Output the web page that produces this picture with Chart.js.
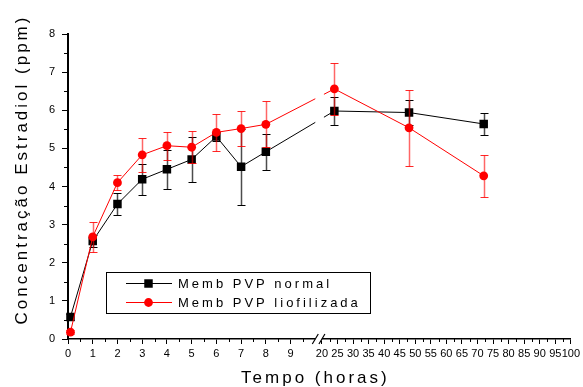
<!DOCTYPE html>
<html><head><meta charset="utf-8">
<script src="https://cdn.jsdelivr.net/npm/chart.js@4.4.1/dist/chart.umd.min.js"></script>
<style>html,body{margin:0;padding:0;background:#fff;overflow:hidden}canvas{display:block}</style>
</head><body>
<canvas id="c" width="583" height="387"></canvas>
<script>
// ---------- data ----------
const hours      = [0.1, 1, 2, 3, 4, 5, 6, 7, 8, 24, 48, 72];
const normal     = [0.58, 2.57, 3.54, 4.19, 4.45, 4.71, 5.31, 4.52, 4.91, 5.98, 5.94, 5.64];
const normalErr  = [0.08, 0.15, 0.30, 0.40, 0.51, 0.59, 0.12, 1.00, 0.48, 0.37, 0.33, 0.29];
const lio        = [0.18, 2.68, 4.10, 4.83, 5.07, 5.03, 5.42, 5.52, 5.63, 6.56, 5.54, 4.28];
const lioErr     = [0.05, 0.39, 0.19, 0.45, 0.37, 0.42, 0.49, 0.45, 0.60, 0.68, 1.00, 0.55];
const seriesLabels = ['Memb PVP normal', 'Memb PVP liofilizada'];
const xTicksLeft  = [0, 1, 2, 3, 4, 5, 6, 7, 8, 9];
const xTicksRight = [20, 25, 30, 35, 40, 45, 50, 55, 60, 65, 70, 75, 80, 85, 90, 95, 100];
const yTicks      = [0, 1, 2, 3, 4, 5, 6, 7, 8];
const xTitle = 'Tempo (horas)';
const yTitle = 'Concentração Estradiol (ppm)';

// ---------- layout of the broken axis ----------
const BREAK = { lowMax: 10, highMin: 20, lowFrac: 0.4918, highFrac: 0.505 };
const FONT = '"Liberation Sans", Arial, sans-serif';
Chart.defaults.font.family = FONT;

class BrokenLinearScale extends Chart.LinearScale {
  buildTicks() {
    this.start = this.min; this.end = this.max;
    return [...xTicksLeft, ...xTicksRight].map(v => ({ value: v }));
  }
  _frac(value) {
    const b = BREAK;
    if (value <= b.lowMax) return (value - this.min) / (b.lowMax - this.min) * b.lowFrac;
    if (value >= b.highMin) return b.highFrac + (value - b.highMin) / (this.max - b.highMin) * (1 - b.highFrac);
    return b.lowFrac + (value - b.lowMax) / (b.highMin - b.lowMax) * (b.highFrac - b.lowFrac);
  }
  getPixelForValue(value) {
    return this._startPixel + this._frac(value) * this._length;
  }
  getValueForPixel(pixel) {
    const b = BREAK;
    const f = (pixel - this._startPixel) / this._length;
    if (f <= b.lowFrac) return this.min + f / b.lowFrac * (b.lowMax - this.min);
    if (f >= b.highFrac) return b.highMin + (f - b.highFrac) / (1 - b.highFrac) * (this.max - b.highMin);
    return b.lowMax + (f - b.lowFrac) / (b.highFrac - b.lowFrac) * (b.highMin - b.lowMax);
  }
}
BrokenLinearScale.id = 'brokenLinear';
BrokenLinearScale.defaults = Chart.LinearScale.defaults;
Chart.register(BrokenLinearScale);

// error bars + gap clipping
const errorBars = {
  id: 'errorBars',
  beforeDatasetDraw(chart, args) {
    const { ctx, scales: { x, y }, chartArea } = chart;
    const gapL = x.getPixelForValue(BREAK.lowMax);
    const gapR = x.getPixelForValue(BREAK.highMin) + 2;
    ctx.save();
    ctx.beginPath();
    ctx.rect(0, 0, gapL, chart.height);
    ctx.rect(gapR, 0, chart.width - gapR, chart.height);
    ctx.clip();
    const ds = chart.data.datasets[args.index];
    const errs = ds.errors;
    ctx.save();
    args.meta.data.forEach((pt, j) => {
      const v = ds.data[j].y, e = errs[j];
      const px = Math.round(pt.x) + 0.5;
      const yt = Math.round(y.getPixelForValue(v + e)) + 0.5;
      const yb = Math.round(y.getPixelForValue(v - e)) + 0.5;
      ctx.strokeStyle = ds.errColor;
      ctx.lineWidth = 1.5;
      ctx.beginPath(); ctx.moveTo(px, yt); ctx.lineTo(px, yb); ctx.stroke();
      ctx.lineWidth = 1;
      ctx.strokeStyle = ds.capColor;
      ctx.beginPath();
      ctx.moveTo(px - 4, yt); ctx.lineTo(px + 4, yt);
      ctx.moveTo(px - 4, yb); ctx.lineTo(px + 4, yb);
      ctx.stroke();
    });
    ctx.restore();
  },
  afterDatasetDraw(chart) { chart.ctx.restore(); }
};

// minor ticks, axis break marks, titles, legend
const decorations = {
  id: 'decorations',
  afterDraw(chart) {
    const { ctx, scales: { x, y }, chartArea: a } = chart;
    ctx.save();
    ctx.strokeStyle = '#000'; ctx.lineWidth = 1;
    // minor ticks
    ctx.beginPath();
    yTicks.slice(0, -1).forEach(t => {
      const py = Math.round(y.getPixelForValue(t + 0.5)) + 0.5;
      ctx.moveTo(a.left - 4, py); ctx.lineTo(a.left, py);
    });
    const xm = [...xTicksLeft.map(t => t + 0.5), ...xTicksRight.slice(0, -1).map(t => t + 2.5)];
    xm.forEach(t => {
      const px = Math.round(x.getPixelForValue(t)) + 0.5;
      ctx.moveTo(px, a.bottom); ctx.lineTo(px, a.bottom + 3);
    });
    ctx.stroke();
    // break marks
    const b1 = x.getPixelForValue(BREAK.lowMax), b2 = x.getPixelForValue(BREAK.highMin);
    ctx.fillStyle = '#fff';
    ctx.fillRect(b1, a.bottom - 1.5, b2 - b1, 3);
    ctx.lineWidth = 1.2;
    ctx.beginPath();
    [b1, b2].forEach(c => { ctx.moveTo(c - 3, a.bottom + 5); ctx.lineTo(c + 3, a.bottom - 5); });
    ctx.stroke();
    // titles
    ctx.fillStyle = '#000';
    ctx.font = '17px ' + FONT;
    ctx.letterSpacing = '3px';
    ctx.textAlign = 'center'; ctx.textBaseline = 'middle';
    ctx.fillText(xTitle, (a.left + a.right) / 2 - 4, chart.height - 9);
    ctx.save();
    ctx.translate(22, (a.top + a.bottom) / 2 - 17);
    ctx.rotate(-Math.PI / 2);
    ctx.fillText(yTitle, 0, 0);
    ctx.restore();
    // legend
    const lx = a.left + 38, ly = a.bottom - 67, lw = 264, lh = 41;
    ctx.lineWidth = 1; ctx.strokeStyle = '#000';
    ctx.strokeRect(lx + 0.5, ly + 0.5, lw, lh);
    ctx.font = '13px ' + FONT;
    ctx.letterSpacing = '3px';
    ctx.textAlign = 'left';
    chart.data.datasets.forEach((ds, i) => {
      const ry = ly + 11.5 + i * 19;
      ctx.strokeStyle = ds.borderColor; ctx.lineWidth = 1;
      ctx.beginPath(); ctx.moveTo(lx + 20, ry); ctx.lineTo(lx + 66, ry); ctx.stroke();
      ctx.fillStyle = ds.pointBackgroundColor;
      Chart.helpers.drawPoint(ctx, { pointStyle: ds.pointStyle, radius: ds.pointRadius, rotation: 0, borderWidth: 0 }, lx + 42.5, ry);
      ctx.fillStyle = '#000';
      ctx.fillText(ds.label, lx + 72, ry + 1);
    });
    ctx.restore();
  }
};

const mkData = (vals) => hours.map((h, i) => ({ x: h, y: vals[i] }));

new Chart(document.getElementById('c'), {
  type: 'line',
  data: {
    datasets: [
      {
        label: seriesLabels[0], data: mkData(normal), errors: normalErr,
        borderColor: '#000', borderWidth: 1, pointStyle: 'rect', pointRadius: 6,
        pointBackgroundColor: '#000', pointBorderWidth: 0, order: 1, clip: false,
        errColor: 'rgba(0,0,0,0.7)', capColor: '#000'
      },
      {
        label: seriesLabels[1], data: mkData(lio), errors: lioErr,
        borderColor: '#ff0000', borderWidth: 1, pointStyle: 'circle', pointRadius: 4.4,
        pointBackgroundColor: '#ff0000', pointBorderWidth: 0, order: 0, clip: false,
        errColor: 'rgba(255,0,0,0.6)', capColor: 'rgba(255,0,0,0.85)'
      }
    ]
  },
  options: {
    responsive: false, animation: false, devicePixelRatio: 1,
    layout: { padding: { top: 34, right: 12, left: 0, bottom: 0 } },
    plugins: { legend: { display: false }, tooltip: { enabled: false } },
    events: [],
    scales: {
      x: {
        type: 'brokenLinear', position: 'bottom', min: 0, max: 100,
        afterFit: s => { s.height = 48; },
        grid: { drawOnChartArea: false, drawTicks: true, tickLength: 5, tickColor: '#000', tickWidth: 1 },
        border: { color: '#000', width: 1.5 },
        ticks: { autoSkip: false, maxRotation: 0, minRotation: 0, padding: 3, color: '#000',
                 font: { size: 11 }, callback: v => String(v) }
      },
      y: {
        type: 'linear', min: 0, max: 8,
        afterFit: s => { s.width = 68; },
        afterBuildTicks: s => { s.ticks = yTicks.map(v => ({ value: v })); },
        grid: { drawOnChartArea: false, drawTicks: true, tickLength: 6, tickColor: '#000', tickWidth: 1 },
        border: { color: '#000', width: 2 },
        ticks: { padding: 7, color: '#000', font: { size: 11 } }
      }
    }
  },
  plugins: [errorBars, decorations]
});
</script>
</body></html>
